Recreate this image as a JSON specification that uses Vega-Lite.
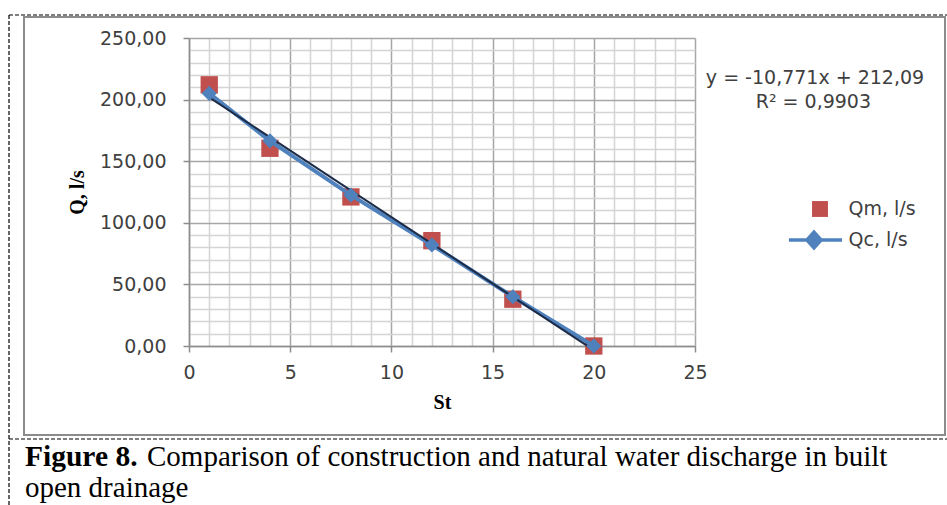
{
  "$schema": "https://vega.github.io/schema/vega-lite/v6.json",
  "width": 506,
  "height": 308,
  "autosize": {"type": "none"},
  "padding": {"left": 189, "top": 38, "right": 252, "bottom": 159},
  "background": "white",
  "config": {"view": {"stroke": null}},
  "datasets": {
    "obs": [
      {"St": 1, "Q": 212, "series": "Qm, l/s"},
      {"St": 4, "Q": 160.5, "series": "Qm, l/s"},
      {"St": 8, "Q": 121, "series": "Qm, l/s"},
      {"St": 12, "Q": 85.5, "series": "Qm, l/s"},
      {"St": 16, "Q": 38, "series": "Qm, l/s"},
      {"St": 20, "Q": 0, "series": "Qm, l/s"},
      {"St": 1, "Q": 205, "series": "Qc, l/s"},
      {"St": 4, "Q": 166.5, "series": "Qc, l/s"},
      {"St": 8, "Q": 122.5, "series": "Qc, l/s"},
      {"St": 12, "Q": 82, "series": "Qc, l/s"},
      {"St": 16, "Q": 40, "series": "Qc, l/s"},
      {"St": 20, "Q": 0, "series": "Qc, l/s"}
    ],
    "one": [{}]
  },
  "layer": [
    {
      "data": {"name": "one"},
      "mark": {"type": "rect", "fill": null, "stroke": "#8c8c8c", "strokeWidth": 2},
      "encoding": {
        "x": {
          "datum": -8.152, "type": "quantitative",
          "scale": {"domain": [0, 25], "nice": false, "zero": false},
          "axis": {
            "title": "St",
            "tickCount": 25,
            "labelExpr": "datum.value % 5 === 0 ? datum.label : ''",
            "labelOverlap": false,
            "labelFlush": false,
            "labelFont": "DejaVu Sans", "labelFontSize": 19, "labelColor": "#404040", "labelPadding": 11,
            "titleFont": "Liberation Serif", "titleFontSize": 20, "titleFontWeight": "bold", "titleColor": "#000000", "titlePadding": 10,
            "grid": true,
            "gridColor": {"condition": {"test": "datum.value % 5 === 0", "value": "#a6a6a6"}, "value": "#d4d4d4"},
            "gridWidth": 1.5,
            "domainColor": "#8c8c8c", "domainWidth": 1.5,
            "tickColor": "#8c8c8c", "tickSize": 6, "tickWidth": 1.5,
            "tickOpacity": {"condition": {"test": "datum.value % 5 === 0", "value": 1}, "value": 0}
          }
        },
        "x2": {"datum": 37.352},
        "y": {
          "datum": 267.05, "type": "quantitative",
          "scale": {"domain": [0, 250], "nice": false, "zero": false},
          "axis": {
            "title": "Q, l/s",
            "tickCount": 25,
            "labelExpr": "datum.value % 50 === 0 ? replace(format(datum.value, '.2f'), '.', ',') : ''",
            "labelOverlap": false,
            "labelFlush": false,
            "labelFont": "DejaVu Sans", "labelFontSize": 19, "labelColor": "#404040", "labelPadding": 17,
            "titleFont": "Liberation Serif", "titleFontSize": 20, "titleFontWeight": "bold", "titleColor": "#000000", "titlePadding": 12,
            "grid": true,
            "gridColor": {"condition": {"test": "datum.value % 50 === 0", "value": "#a6a6a6"}, "value": "#d4d4d4"},
            "gridWidth": 1.5,
            "domainColor": "#8c8c8c", "domainWidth": 1.5,
            "tickColor": "#8c8c8c", "tickSize": 6, "tickWidth": 1.5,
            "tickOpacity": {"condition": {"test": "datum.value % 50 === 0", "value": 1}, "value": 0}
          }
        },
        "y2": {"datum": -72.24}
      }
    },
    {
      "data": {"name": "one"},
      "mark": {"type": "rule", "color": "#000000", "strokeWidth": 1.2, "strokeDash": [4, 2]},
      "encoding": {
        "x": {"datum": -8.893, "type": "quantitative"},
        "x2": {"datum": 37.45},
        "y": {"datum": 268.67, "type": "quantitative"}
      }
    },
    {
      "data": {"name": "one"},
      "mark": {"type": "rule", "color": "#000000", "strokeWidth": 1.2, "strokeDash": [4, 2]},
      "encoding": {
        "x": {"datum": -8.893, "type": "quantitative"},
        "x2": {"datum": 37.45},
        "y": {"datum": -75.49, "type": "quantitative"}
      }
    },
    {
      "data": {"name": "one"},
      "mark": {"type": "rule", "color": "#000000", "strokeWidth": 1.2, "strokeDash": [4, 2]},
      "encoding": {
        "x": {"datum": -8.893, "type": "quantitative"},
        "y": {"datum": 268.67, "type": "quantitative"},
        "y2": {"datum": -129.06}
      }
    },
    {
      "data": {"name": "obs"},
      "transform": [{"filter": "datum.series === 'Qm, l/s'"}],
      "mark": {"type": "point", "shape": "square", "filled": true, "size": 300, "color": "#C0504D", "opacity": 1},
      "encoding": {
        "x": {"field": "St", "type": "quantitative"},
        "y": {"field": "Q", "type": "quantitative"}
      }
    },
    {
      "data": {"name": "obs"},
      "transform": [{"filter": "datum.series === 'Qc, l/s'"}],
      "mark": {"type": "line", "color": "#4F81BD", "strokeWidth": 4},
      "encoding": {
        "x": {"field": "St", "type": "quantitative"},
        "y": {"field": "Q", "type": "quantitative"}
      }
    },
    {
      "data": {"name": "obs"},
      "transform": [
        {"filter": "datum.series === 'Qm, l/s'"},
        {"regression": "Q", "on": "St", "extent": [1, 20]}
      ],
      "mark": {"type": "line", "color": "#1c2b47", "strokeWidth": 2},
      "encoding": {
        "x": {"field": "St", "type": "quantitative"},
        "y": {"field": "Q", "type": "quantitative"}
      }
    },
    {
      "data": {"name": "obs"},
      "transform": [{"filter": "datum.series === 'Qc, l/s'"}],
      "mark": {"type": "point", "shape": "diamond", "filled": true, "size": 230, "color": "#4F81BD", "opacity": 1},
      "encoding": {
        "x": {"field": "St", "type": "quantitative"},
        "y": {"field": "Q", "type": "quantitative"}
      }
    },
    {
      "data": {"name": "obs"},
      "transform": [{"filter": "false"}],
      "mark": {"type": "point", "size": 900, "opacity": 1},
      "encoding": {
        "x": {"field": "St", "type": "quantitative"},
        "y": {"field": "Q", "type": "quantitative"},
        "fill": {
          "field": "series", "type": "nominal",
          "scale": {"domain": ["Qm, l/s", "Qc, l/s"], "range": ["#C0504D", "#4F81BD"]},
          "legend": {
            "title": null,
            "orient": "none",
            "legendX": 609.5,
            "legendY": 156,
            "padding": 0,
            "rowPadding": 4,
            "symbolSize": 900,
            "labelOffset": 16,
            "labelFont": "DejaVu Sans",
            "labelFontSize": 19,
            "labelColor": "#404040"
          }
        },
        "stroke": {
          "field": "series", "type": "nominal",
          "scale": {"domain": ["Qm, l/s", "Qc, l/s"], "range": ["#C0504D", "#4F81BD"]}
        },
        "strokeWidth": {
          "field": "series", "type": "nominal",
          "scale": {"domain": ["Qm, l/s", "Qc, l/s"], "range": [0, 3.5]}
        },
        "shape": {
          "field": "series", "type": "nominal",
          "scale": {
            "domain": ["Qm, l/s", "Qc, l/s"],
            "range": ["M-0.23,-0.53H0.83V0.53H-0.23Z", "M-1.77,0H1.77M-0.1,-0.53L0.37,0L-0.1,0.53L-0.57,0Z"]
          }
        }
      }
    },
    {
      "data": {"name": "one"},
      "mark": {"type": "text", "text": "y = -10,771x + 212,09", "align": "center", "baseline": "middle", "font": "DejaVu Sans", "fontSize": 19, "color": "#404040"},
      "encoding": {
        "x": {"datum": 30.93, "type": "quantitative"},
        "y": {"datum": 217.5, "type": "quantitative"}
      }
    },
    {
      "data": {"name": "one"},
      "mark": {"type": "text", "text": "R² = 0,9903", "align": "center", "baseline": "middle", "font": "DejaVu Sans", "fontSize": 19, "color": "#404040"},
      "encoding": {
        "x": {"datum": 30.85, "type": "quantitative"},
        "y": {"datum": 198.1, "type": "quantitative"}
      }
    },
    {
      "data": {"name": "one"},
      "mark": {"type": "text", "text": "Figure 8.", "align": "left", "baseline": "alphabetic", "font": "Liberation Serif", "fontSize": 29.5, "fontWeight": "bold", "color": "#000000"},
      "encoding": {
        "x": {"datum": -8.103, "type": "quantitative"},
        "y": {"datum": -97.4, "type": "quantitative"}
      }
    },
    {
      "data": {"name": "one"},
      "mark": {"type": "text", "text": "Comparison of construction and natural water discharge in built", "align": "left", "baseline": "alphabetic", "font": "Liberation Serif", "fontSize": 29, "color": "#000000"},
      "encoding": {
        "x": {"datum": -2.075, "type": "quantitative"},
        "y": {"datum": -97.4, "type": "quantitative"}
      }
    },
    {
      "data": {"name": "one"},
      "mark": {"type": "text", "text": "open drainage", "align": "left", "baseline": "alphabetic", "font": "Liberation Serif", "fontSize": 29, "color": "#000000"},
      "encoding": {
        "x": {"datum": -8.103, "type": "quantitative"},
        "y": {"datum": -122.6, "type": "quantitative"}
      }
    }
  ]
}
